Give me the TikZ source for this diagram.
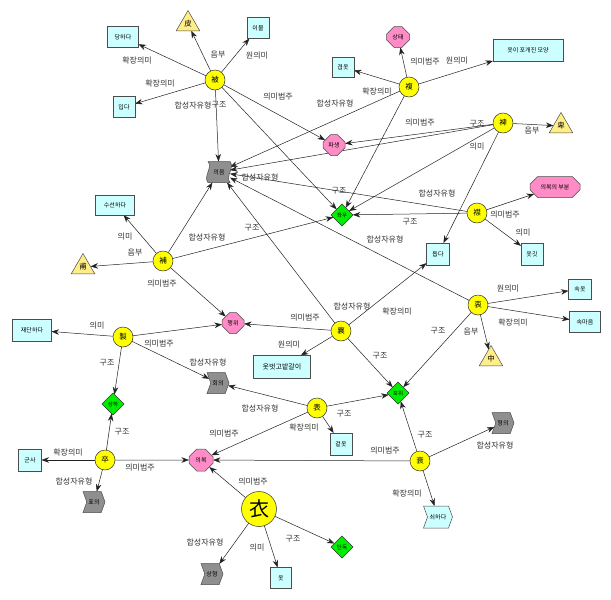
\documentclass[tikz,border=0pt]{standalone}
\usepackage{fontspec}
\setmainfont{Noto Sans CJK KR}
\usetikzlibrary{shapes.geometric,shapes.symbols,shapes.misc,arrows.meta}
\pgfdeclarelayer{bg}
\pgfdeclarelayer{paper}
\pgfsetlayers{paper,bg,main}
\definecolor{hanY}{HTML}{FFFF00}
\definecolor{boxC}{HTML}{CCFFFF}
\definecolor{pinkO}{HTML}{FF8CC6}
\definecolor{greenD}{HTML}{00EE00}
\definecolor{triY}{HTML}{FFEE88}
\definecolor{grayS}{HTML}{8F8F8F}
\definecolor{edgeC}{HTML}{222222}
\begin{document}
\begin{tikzpicture}[x=1pt,y=-1pt,
  every node/.style={inner sep=0pt, outer sep=0pt},
  han/.style={circle, draw=black!80, fill=hanY, minimum size=20pt, line width=0.5pt, font=\fontsize{7.5}{7.5}\selectfont},
  bigh/.style={han, minimum size=35pt, font=\fontsize{20}{20}\selectfont},
  mbox/.style={rectangle, draw=black!70, fill=boxC, minimum width=22pt, minimum height=21pt, line width=0.5pt, font=\fontsize{6}{6}\selectfont},
  cat/.style={chamfered rectangle, chamfered rectangle xsep=5pt, chamfered rectangle ysep=5pt, draw=black!70, fill=pinkO, minimum width=22pt, minimum height=21pt, line width=0.5pt, font=\fontsize{6}{6}\selectfont},
  struc/.style={diamond, draw=black!80, fill=greenD, minimum width=22pt, minimum height=22pt, line width=0.5pt, font=\fontsize{5.5}{5.5}\selectfont},
  snd/.style={regular polygon, regular polygon sides=3, draw=black!70, fill=triY, minimum size=27pt, line width=0.5pt, font=\fontsize{7.5}{7.5}\selectfont},
  comp/.style={signal, signal to=east, signal from=west, signal pointer angle=140, draw=black!70, fill=grayS, minimum width=22pt, minimum height=21pt, line width=0.5pt, font=\fontsize{6}{6}\selectfont},
  lab/.style={font=\fontsize{8}{8}\selectfont, text=black!80},
  arr/.style={draw=edgeC, line width=0.5pt, -{Stealth[length=7.5pt,width=5.5pt]}}
]
\useasboundingbox (0,0) rectangle (611,600);
\begin{pgfonlayer}{paper}
\fill[white] (0,0) rectangle (611,600);
\end{pgfonlayer}

% character nodes
\node[han] (hPi) at (215,80) {被};
\node[han] (hBok) at (409,87) {複};
\node[han] (hBi) at (503,123) {裨};
\node[han] (hGeum) at (477,213) {襟};
\node[han] (hBo) at (163,261) {補};
\node[han] (hJe) at (123,337) {製};
\node[han] (hYang) at (341,331) {襄};
\node[han] (hChung) at (478,305) {衷};
\node[han] (hPyo) at (317,408) {表};
\node[han] (hJol) at (105,460) {卒};
\node[han] (hSoe) at (420,461) {衰};
\node[bigh] (hUi) at (259,509) {衣};

% meaning boxes
\node[mbox, minimum width=31pt] (bDang) at (123,37) {당하다};
\node[mbox] (bIp) at (124,107) {입다};
\node[mbox] (bIbul) at (258,28) {이불};
\node[mbox, minimum height=20pt] (bGyeop) at (343,67) {겹옷};
\node[mbox, minimum width=70pt, minimum height=22pt] (bPogae) at (528,50) {옷이 포개진 모양};
\node[mbox, minimum width=23pt, minimum height=22pt] (bDop) at (438,254) {돕다};
\node[mbox, minimum height=22pt] (bOtgit) at (532,254) {옷깃};
\node[mbox, minimum width=23pt, minimum height=20pt] (bSokot) at (580,289) {속옷};
\node[mbox, minimum width=31pt] (bSokmaeum) at (585,322) {속마음};
\node[mbox, minimum width=39pt, minimum height=20pt] (bSuseon) at (115,205) {수선하다};
\node[mbox, minimum width=39pt, minimum height=22pt] (bJaedan) at (32,330) {재단하다};
\node[mbox, minimum width=57pt, minimum height=23pt, font=\fontsize{7}{7}\selectfont] (bOtbeot) at (282,367) {옷벗고밭갈이};
\node[mbox, minimum height=22pt] (bGeotot) at (341,444) {겉옷};
\node[mbox, minimum width=23pt, minimum height=22pt] (bGunsa) at (30,460) {군사};
\node[mbox, minimum width=21pt] (bOt) at (281,578) {옷};
\node[comp, fill=boxC, minimum width=29pt, minimum height=22pt] (bSoeha) at (438,517) {쇠하다};

% semantic categories
\node[cat, minimum width=23pt] (oSangtae) at (398,37) {상태};
\node[cat] (oPasaeng) at (334,145) {파생};
\node[cat, minimum width=50pt] (oBubun) at (555,187) {의복의 부분};
\node[cat] (oHaengwi) at (233,323) {행위};
\node[cat, minimum width=24pt, minimum height=22pt] (oUibok) at (201,460) {의복};

% structures
\node[struc] (dJwau) at (342,215) {좌우};
\node[struc] (dSangha) at (113,404) {상하};
\node[struc] (dPowi) at (398,393) {포위};
\node[struc] (dDandok) at (342,547) {단독};

% sound parts
\node[snd] (tPi) at (188,24) {皮};
\node[snd] (tBi) at (561,126) {卑};
\node[snd] (tBo) at (83,267) {甫};
\node[snd] (tJung) at (491,359) {中};

% composition types
\node[rectangle, minimum width=22pt, minimum height=21pt] (gUieum) at (219,172) {};
\filldraw[fill=grayS, draw=black!70, line width=0.5pt]
  (gUieum.north west) .. controls +(5,6) and +(-5,-6) .. (gUieum.south west)
  -- (gUieum.south east) .. controls +(-5,-6) and +(5,6) .. (gUieum.north east) -- cycle;
\node[font=\fontsize{6}{6}\selectfont] (gUieumT) at (gUieum) {의음};
\node[comp] (gHoe) at (218,383) {회의};
\node[comp] (gPyo) at (94,502) {표의};
\node[comp] (gHyeong) at (503,423) {형의};
\node[comp] (gSang) at (212,574) {상형};

% edges
\begin{pgfonlayer}{bg}
\draw[arr] (hPi) -- (tPi);
\draw[arr] (hPi) -- (bIbul);
\draw[arr] (hPi) -- (bDang);
\draw[arr] (hPi) -- (bIp);
\draw[arr] (hPi) -- (gUieum);
\draw[arr] (hPi) -- (oPasaeng);
\draw[arr] (hPi) -- (dJwau);
\draw[arr] (hBok) -- (oSangtae);
\draw[arr] (hBok) -- (bPogae);
\draw[arr] (hBok) -- (bGyeop);
\draw[arr] (hBok) -- (gUieum);
\draw[arr] (hBok) -- (dJwau);
\draw[arr] (hBi) -- (tBi);
\draw[arr] (hBi) -- (oPasaeng);
\draw[arr] (hBi) -- (gUieum);
\draw[arr] (hBi) -- (dJwau);
\draw[arr] (hBi) -- (bDop);
\draw[arr] (hGeum) -- (oBubun);
\draw[arr] (hGeum) -- (bOtgit);
\draw[arr] (hGeum) -- (dJwau);
\draw[arr] (hGeum) -- (gUieum);
\draw[arr] (hBo) -- (bSuseon);
\draw[arr] (hBo) -- (tBo);
\draw[arr] (hBo) -- (gUieum);
\draw[arr] (hBo) -- (dJwau);
\draw[arr] (hBo) -- (oHaengwi);
\draw[arr] (hJe) -- (bJaedan);
\draw[arr] (hJe) -- (dSangha);
\draw[arr] (hJe) -- (gHoe);
\draw[arr] (hJe) -- (oHaengwi);
\draw[arr] (hYang) -- (oHaengwi);
\draw[arr] (hYang) -- (bOtbeot);
\draw[arr] (hYang) -- (bDop);
\draw[arr] (hYang) -- (dPowi);
\draw[arr] (hYang) -- (gUieum);
\draw[arr] (hChung) -- (bSokot);
\draw[arr] (hChung) -- (bSokmaeum);
\draw[arr] (hChung) -- (tJung);
\draw[arr] (hChung) -- (dPowi);
\draw[arr] (hChung) -- (gUieum);
\draw[arr] (hPyo) -- (gHoe);
\draw[arr] (hPyo) -- (dPowi);
\draw[arr] (hPyo) -- (bGeotot);
\draw[arr] (hPyo) -- (oUibok);
\draw[arr] (hJol) -- (dSangha);
\draw[arr] (hJol) -- (bGunsa);
\draw[arr] (hJol) -- (gPyo);
\draw[arr] (hJol) -- (oUibok);
\draw[arr] (hSoe) -- (dPowi);
\draw[arr] (hSoe) -- (gHyeong);
\draw[arr] (hSoe) -- (bSoeha);
\draw[arr] (hSoe) -- (oUibok);
\draw[arr] (hUi) -- (oUibok);
\draw[arr] (hUi) -- (gSang);
\draw[arr] (hUi) -- (bOt);
\draw[arr] (hUi) -- (dDandok);
\end{pgfonlayer}

% edge labels
\node[lab] (l1) at (137,60) {확장의미};
\node[lab] (l2) at (160,83) {확장의미};
\node[lab] (l3) at (218,55) {음부};
\node[lab] (l4) at (257,56) {원의미};
\node[lab] (l5) at (193,105) {합성자유형};
\node[lab] (l6) at (219,105) {구조};
\node[lab] (l7) at (278,97) {의미범주};
\node[lab] (l8) at (335,103) {합성자유형};
\node[lab] (l9) at (377,91) {확장의미};
\node[lab] (l10) at (425,62) {의미범주};
\node[lab] (l11) at (457,61) {원의미};
\node[lab] (l12) at (420,123) {의미범주};
\node[lab] (l13) at (477,124) {구조};
\node[lab] (l14) at (532,131) {음부};
\node[lab] (l15) at (477,147) {의미};
\node[lab] (l16) at (260,177) {합성자유형};
\node[lab] (l17) at (339,191) {구조};
\node[lab] (l18) at (437,193) {합성자유형};
\node[lab] (l19) at (505,215) {의미범주};
\node[lab] (l20) at (523,233) {의미};
\node[lab] (l21) at (410,222) {구조};
\node[lab] (l22) at (385,239) {합성자유형};
\node[lab] (l23) at (252,228) {구조};
\node[lab] (l24) at (207,237) {합성자유형};
\node[lab] (l25) at (125,237) {의미};
\node[lab] (l26) at (135,253) {음부};
\node[lab] (l27) at (162,284) {의미범주};
\node[lab] (l28) at (508,289) {원의미};
\node[lab] (l29) at (513,322) {확장의미};
\node[lab] (l30) at (438,331) {구조};
\node[lab] (l31) at (471,332) {음부};
\node[lab] (l32) at (352,306) {합성자유형};
\node[lab] (l33) at (397,311) {확장의미};
\node[lab] (l34) at (305,318) {의미범주};
\node[lab] (l35) at (289,345) {원의미};
\node[lab] (l36) at (380,356) {구조};
\node[lab] (l37) at (97,326) {의미};
\node[lab] (l38) at (159,344) {의미범주};
\node[lab] (l39) at (107,363) {구조};
\node[lab] (l40) at (208,362) {합성자유형};
\node[lab] (l41) at (260,408) {합성자유형};
\node[lab] (l42) at (344,414) {구조};
\node[lab] (l43) at (304,427) {확장의미};
\node[lab] (l44) at (224,434) {의미범주};
\node[lab] (l45) at (122,432) {구조};
\node[lab] (l46) at (68,452) {확장의미};
\node[lab] (l47) at (140,468) {의미범주};
\node[lab] (l48) at (74,481) {합성자유형};
\node[lab] (l49) at (385,451) {의미범주};
\node[lab] (l50) at (425,435) {구조};
\node[lab] (l51) at (495,445) {합성자유형};
\node[lab] (l52) at (407,493) {확장의미};
\node[lab] (l53) at (253,482) {의미범주};
\node[lab] (l54) at (205,542) {합성자유형};
\node[lab] (l55) at (257,548) {의미};
\node[lab] (l56) at (293,539) {구조};
\end{tikzpicture}
\end{document}
